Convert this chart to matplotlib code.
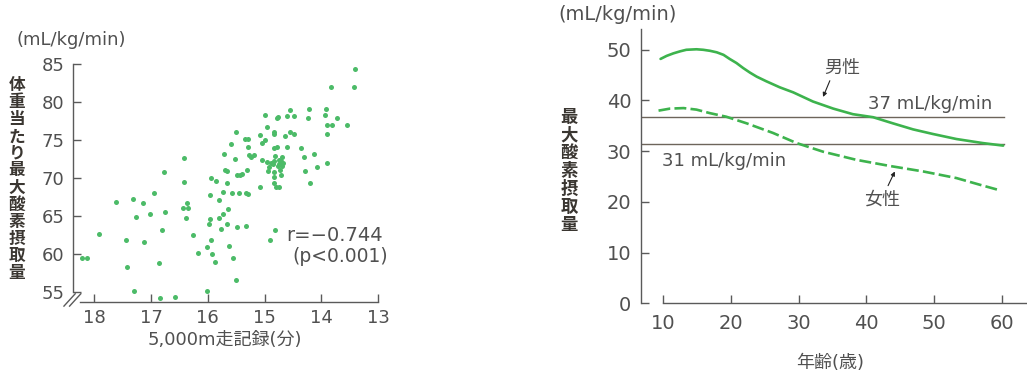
import matplotlib
matplotlib.use("Agg")
import matplotlib.pyplot as plt

plt.rcParams['font.family'] = ['DejaVu Sans', 'Noto Sans CJK JP']

# left panel: 5,000 m run time (min) vs VO2max per body weight
run_min = [18.21, 18.12, 17.91, 17.61, 17.44, 17.42, 17.32, 17.27, 17.30, 17.14,
           17.13, 17.01, 16.94, 16.85, 16.86, 16.81, 16.77, 16.76, 16.58, 16.44,
           16.42, 16.42, 16.37, 16.35, 16.38, 16.27, 16.17, 16.02, 16.01, 15.98,
           15.97, 15.96, 15.94, 15.94, 15.92, 15.87, 15.85, 15.81, 15.81, 15.76,
           15.74, 15.74, 15.72, 15.70, 15.67, 15.67, 15.66, 15.64, 15.62, 15.60,
           15.58, 15.56, 15.53, 15.50, 15.50, 15.49, 15.48, 15.46, 15.43, 15.40,
           15.35, 15.33, 15.33, 15.31, 15.29, 15.29, 15.29, 15.27, 15.24, 15.18,
           15.09, 15.09, 15.04, 15.00, 14.99, 14.96, 15.04, 14.96, 14.94, 14.90,
           14.93, 14.89, 14.86, 14.83, 14.84, 14.83, 14.83, 14.81, 14.81, 14.83,
           14.83, 14.83, 14.80, 14.78, 14.77, 14.79, 14.77, 14.75, 14.74, 14.74,
           14.73, 14.71, 14.70, 14.71, 14.69, 14.68, 14.64, 14.61, 14.60, 14.55,
           14.56, 14.49, 14.49, 14.36, 14.31, 14.29, 14.24, 14.21, 14.20, 14.13,
           14.08, 13.93, 13.92, 13.90, 13.90, 13.91, 13.83, 13.81, 13.73, 13.55,
           13.42, 13.40]
vo2 = [59.5, 59.5, 62.7, 66.9, 61.9, 58.3, 67.3, 64.9, 55.1, 66.7,
       61.6, 65.3, 68.0, 54.2, 58.8, 63.1, 70.8, 65.5, 54.3, 66.0,
       72.6, 69.5, 66.7, 66.1, 64.8, 62.5, 60.1, 55.1, 60.9, 63.9,
       64.6, 67.7, 70.0, 61.9, 60.0, 58.9, 69.6, 67.1, 64.8, 63.3,
       68.1, 65.3, 73.1, 71.1, 70.9, 63.9, 69.4, 65.9, 61.0, 74.4,
       68.0, 59.5, 72.5, 76.1, 56.6, 63.5, 70.4, 68.0, 70.4, 70.5,
       75.1, 68.0, 63.7, 71.1, 74.1, 67.9, 75.1, 73.0, 72.8, 73.0,
       68.8, 75.7, 74.6, 75.0, 78.3, 76.7, 72.3, 72.1, 70.9, 61.9,
       71.5, 71.9, 71.8, 72.2, 74.0, 76.1, 75.8, 63.2, 72.9, 70.8,
       70.1, 69.4, 68.8, 77.9, 78.0, 74.1, 71.6, 71.8, 68.8, 72.4,
       71.1, 72.2, 71.6, 70.4, 72.8, 72.0, 75.5, 74.1, 78.2, 78.9,
       76.0, 78.1, 75.8, 74.0, 72.7, 70.9, 77.9, 79.0, 69.3, 73.2,
       71.5, 78.3, 79.0, 76.9, 75.8, 72.0, 82.0, 77.0, 77.9, 77.0,
       81.9, 84.3]
left_xticks = [18, 17, 16, 15, 14, 13]
left_yticks = [55, 60, 65, 70, 75, 80, 85]

# right panel: VO2max by age
male_age = [9.6, 10.5, 11.5, 12.5, 13.4, 14.9, 15.9, 16.9, 17.9, 18.9, 19.8,
            20.8, 21.8, 22.8, 23.8, 25.2, 27.2, 29.2, 32.1, 35.1, 38.0, 41.0,
            43.9, 46.9, 49.8, 53.3, 57.2, 60.2]
male_vo2 = [48.2, 48.8, 49.3, 49.7, 50.0, 50.1, 50.0, 49.8, 49.5, 49.0, 48.2,
            47.4, 46.4, 45.5, 44.7, 43.8, 42.6, 41.6, 39.8, 38.4, 37.3, 36.7,
            35.5, 34.3, 33.4, 32.4, 31.6, 31.1]
female_age = [9.3, 11.0, 13.0, 14.9, 16.9, 19.3, 22.3, 26.2, 29.7, 33.6,
              38.5, 43.4, 48.4, 53.3, 56.7, 59.4]
female_vo2 = [38.0, 38.4, 38.5, 38.2, 37.5, 36.8, 35.5, 33.6, 31.6, 29.9,
              28.3, 27.1, 26.0, 24.7, 23.4, 22.4]
ref_levels = [36.8, 31.5]
ref_labels = ['37 mL/kg/min', '31 mL/kg/min']
right_xticks = [10, 20, 30, 40, 50, 60]
right_yticks = [0, 10, 20, 30, 40, 50]

green = '#3db34d'
dot_green = '#4cbb68'
axis_col = '#5a5a5a'
text_col = '#505050'
label_col = '#3a3631'

W, H = 1027, 376
fig = plt.figure(figsize=(W / 100, H / 100), dpi=100)


def style_axis(ax, size):
    for s in ['top', 'right']:
        ax.spines[s].set_visible(False)
    for s in ['left', 'bottom']:
        ax.spines[s].set_color(axis_col)
        ax.spines[s].set_linewidth(1.0)
    ax.tick_params(direction='in', length=6, width=1.0, color=axis_col,
                   labelcolor=text_col, labelsize=size)


# ---- left scatter ----
ax1 = fig.add_axes([72.7 / W, 1 - 302 / H, (385 - 72.7) / W, (302 - 60) / H])
ax1.scatter(run_min, vo2, s=13, color=dot_green, linewidths=0, zorder=3)
ax1.set_xlim(18.38, 12.88)
ax1.set_ylim(53.7, 85.5)
style_axis(ax1, 13)
ax1.spines['left'].set_bounds(55, 85)
ax1.spines['bottom'].set_bounds(18.25, 13)
ax1.set_xticks(left_xticks)
ax1.set_yticks(left_yticks)
ax1.tick_params(axis='x', pad=5)
ax1.tick_params(axis='y', pad=6)
# axis break marks
for dx in (0.0, 0.018):
    ax1.plot([-0.028 + dx, 0.008 + dx], [-0.017, 0.034], transform=ax1.transAxes,
             color=axis_col, lw=1.0, clip_on=False)
ax1.text(12.92, 62.4, 'r=−0.744', ha='right', va='center', fontsize=14,
         color=text_col)
ax1.text(12.83, 59.7, '(p<0.001)', ha='right', va='center', fontsize=13.5,
         color=text_col)

fig.text(17 / W, 1 - 40 / H, '(mL/kg/min)', ha='left', va='center',
         fontsize=13, color=text_col)
fig.text(17 / W, 1 - 179 / H, '\n'.join('体重当たり最大酸素摂取量'), ha='center',
         va='center', fontsize=12, color=label_col, linespacing=0.93,
         fontweight='bold')
fig.text(225 / W, 1 - 340 / H, '5,000m走記録(分)', ha='center', va='center',
         fontsize=13, color=text_col)

# ---- right line chart ----
ax2 = fig.add_axes([641 / W, 1 - 303.3 / H, (W - 641) / W, (303.3 - 29) / H])
ax2.set_xlim(6.71, 63.72)
ax2.set_ylim(0, 54.1)
for lvl in ref_levels:
    ax2.plot([6.71, 60.3], [lvl, lvl], color='#6d655b', lw=1.0, zorder=2)
ax2.plot(male_age, male_vo2, color=green, lw=1.9, solid_capstyle='round', zorder=3)
ax2.plot(female_age, female_vo2, color=green, lw=1.9, dashes=(4.5, 1.6), zorder=3)
style_axis(ax2, 14)
ax2.spines['bottom'].set_bounds(10, 63.72)
ax2.set_xticks(right_xticks)
ax2.set_yticks(right_yticks)
ax2.tick_params(axis='x', pad=8)
ax2.tick_params(axis='y', pad=7)

ax2.text(40.2, 39.4, ref_labels[0], ha='left', va='center', fontsize=13,
         color=text_col)
ax2.text(9.76, 28.1, ref_labels[1], ha='left', va='center', fontsize=13,
         color=text_col)

ax2.text(36.5, 46.4, '男性', ha='center', va='center', fontsize=13,
         color=text_col)
ax2.annotate('', xy=(33.6, 40.7), xytext=(34.6, 43.9),
             arrowprops=dict(arrowstyle='-|>', color='#222222', lw=0.8,
                             mutation_scale=6, shrinkA=0, shrinkB=0))
ax2.text(42.3, 20.4, '女性', ha='center', va='center', fontsize=13,
         color=text_col)
ax2.annotate('', xy=(44.2, 26.0), xytext=(43.2, 23.2),
             arrowprops=dict(arrowstyle='-|>', color='#222222', lw=0.8,
                             mutation_scale=6, shrinkA=0, shrinkB=0))

fig.text(558 / W, 1 - 15 / H, '(mL/kg/min)', ha='left', va='center',
         fontsize=14, color=text_col)
fig.text(569 / W, 1 - 171 / H, '\n'.join('最大酸素摂取量'), ha='center',
         va='center', fontsize=12.5, color=label_col, linespacing=1.0,
         fontweight='bold')
fig.text(830 / W, 1 - 363 / H, '年齢(歳)', ha='center', va='center',
         fontsize=13, color=text_col)

fig.savefig('out.png', dpi=100)
